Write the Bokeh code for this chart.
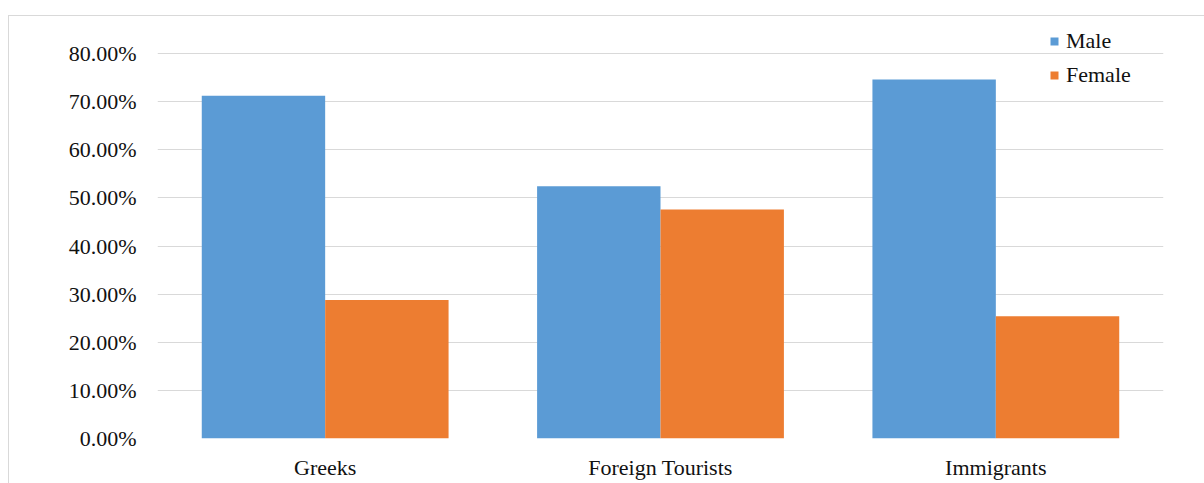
from bokeh.plotting import figure
from bokeh.models import (ColumnDataSource, FactorRange, Range1d, FixedTicker,
                          PrintfTickFormatter, Legend, LegendItem)
from bokeh.transform import dodge
from bokeh.embed import file_html
from bokeh.resources import INLINE

categories = ["Greeks", "Foreign Tourists", "Immigrants"]
male = [71.2, 52.4, 74.6]
female = [28.8, 47.6, 25.4]
y_ticks = [0, 10, 20, 30, 40, 50, 60, 70, 80]

FONT = "Liberation Serif"
BLUE = "#5B9BD5"
ORANGE = "#ED7D31"
GRID = "#d9d9d9"

src = ColumnDataSource(dict(cat=categories, male=male, female=female))

px_per_unit = (438 - 53) / 80.0
y_end = 80 + (53 - 20) / px_per_unit

p = figure(x_range=FactorRange(factors=categories, range_padding=0),
           y_range=Range1d(0, y_end),
           width=1204, height=483, output_backend="svg", toolbar_location=None,
           min_border_left=157, min_border_right=41, min_border_top=20,
           min_border_bottom=45)
p.outline_line_color = None
p.background_fill_color = "white"
p.border_fill_alpha = 0
p.styles = {
    "background": (
        f"linear-gradient({GRID},{GRID}) 8px 15px / 100% 1px no-repeat, "
        f"linear-gradient({GRID},{GRID}) 8px 15px / 1px 100% no-repeat, white"
    )
}

bw = 0.368
r1 = p.vbar(x=dodge("cat", -bw / 2, range=p.x_range), top="male", width=bw,
            source=src, fill_color=BLUE, line_color=None)
r2 = p.vbar(x=dodge("cat", bw / 2, range=p.x_range), top="female", width=bw,
            source=src, fill_color=ORANGE, line_color=None)

p.xgrid.grid_line_color = None
p.ygrid.grid_line_color = GRID
p.ygrid.grid_line_width = 1
p.yaxis.ticker = FixedTicker(ticks=y_ticks)
p.yaxis.formatter = PrintfTickFormatter(format="%.2f%%")

for ax in (p.xaxis[0], p.yaxis[0]):
    ax.axis_line_color = None
    ax.major_tick_line_color = None
    ax.minor_tick_line_color = None
    ax.major_tick_out = 0
    ax.major_tick_in = 0
    ax.minor_tick_out = 0
    ax.major_label_text_font = FONT
    ax.major_label_text_font_size = "22px"
    ax.major_label_text_color = "#111111"
p.yaxis.major_label_standoff = 21
p.xaxis.major_label_standoff = 16

legend = Legend(items=[LegendItem(label="Male", renderers=[r1]),
                       LegendItem(label="Female", renderers=[r2])],
                location=(892, 350), orientation="vertical",
                glyph_width=10, glyph_height=10, label_standoff=7,
                label_height=24, spacing=8, padding=0, margin=0,
                border_line_color=None, background_fill_alpha=0,
                label_text_font=FONT, label_text_font_size="22px",
                label_text_color="#111111")
p.add_layout(legend, "center")

open("out.html", "w").write(file_html(p, INLINE))
